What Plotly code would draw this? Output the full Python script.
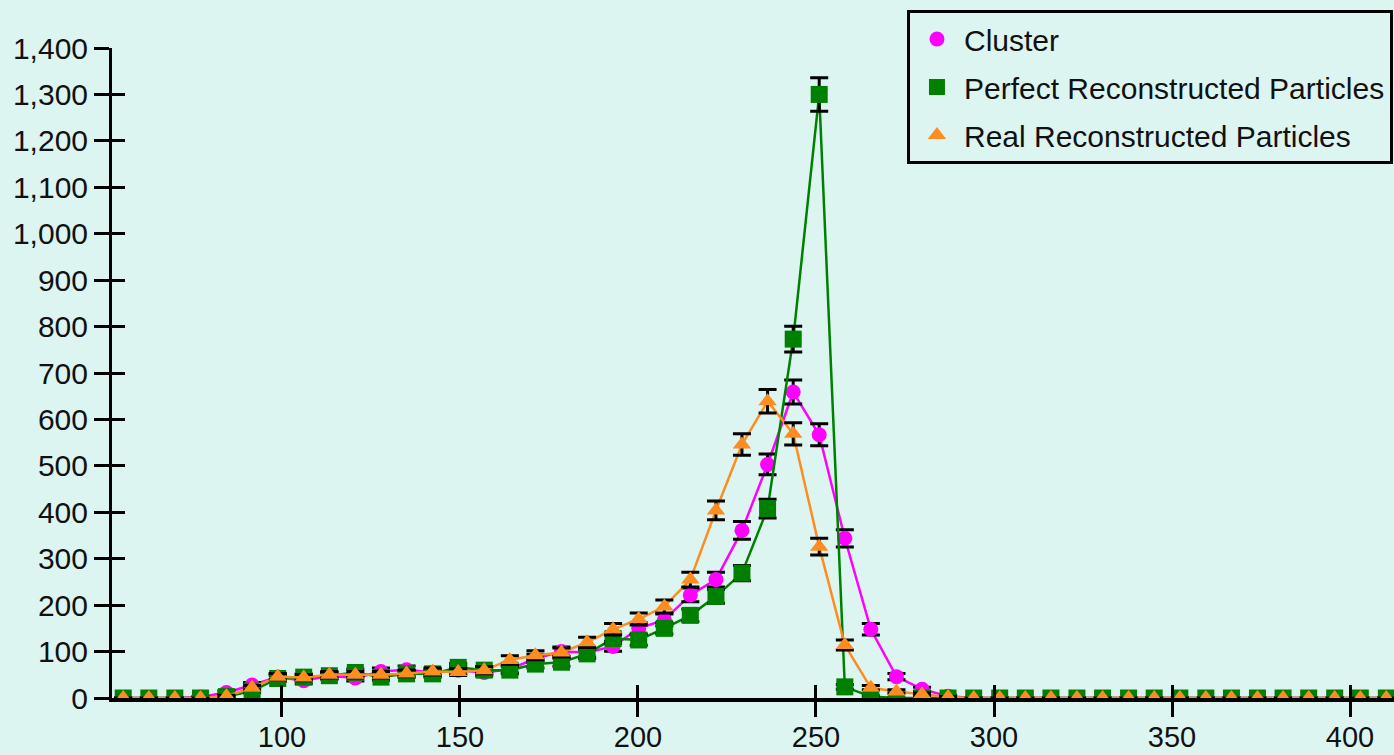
import plotly.graph_objects as go

# bin centres (50 bins)
x_vals = [55.4, 62.6, 69.9, 77.1, 84.4, 91.6, 98.8, 106.1, 113.3, 120.6,
          127.8, 135.0, 142.3, 149.5, 156.8, 164.0, 171.2, 178.5, 185.7, 193.0,
          200.2, 207.4, 214.7, 221.9, 229.2, 236.4, 243.6, 250.9, 258.1, 265.4,
          272.6, 279.8, 287.1, 294.3, 301.6, 308.8, 316.0, 323.3, 330.5, 337.8,
          345.0, 352.2, 359.5, 366.7, 374.0, 381.2, 388.4, 395.7, 402.9, 410.2]

cluster = [0, 0, 0, 2, 12, 28, 45, 37, 48, 43,
           57, 61, 55, 60, 55, 62, 85, 100, 98, 111,
           150, 168, 222, 255, 361, 503, 659, 567, 344, 148,
           46, 19, 4, 0, 0, 0, 0, 0, 0, 0,
           0, 0, 0, 0, 0, 0, 0, 0, 0, 0]
cluster_err = [0, 0, 0, 1.4, 3.5, 5.3, 6.7, 6.1, 6.9, 6.6,
               7.5, 7.8, 7.4, 7.7, 7.4, 7.9, 9.2, 10, 9.9, 10.5,
               12.2, 13, 14.9, 16, 19, 22.4, 25.7, 23.8, 18.5, 12.2,
               6.8, 4.4, 2, 0, 0, 0, 0, 0, 0, 0,
               0, 0, 0, 0, 0, 0, 0, 0, 0, 0]

perfect = [0, 0, 0, 0, 3, 15, 42, 45, 48, 55,
           45, 52, 52, 66, 60, 60, 73, 77, 95, 128,
           125, 150, 178, 219, 269, 408, 773, 1300, 24, 3,
           0, 0, 0, 0, 0, 0, 0, 0, 0, 0,
           0, 0, 0, 0, 0, 0, 0, 0, 0, 0]
perfect_err = [0, 0, 0, 0, 1.7, 3.9, 6.5, 6.7, 6.9, 7.4,
               6.7, 7.2, 7.2, 8.1, 7.7, 7.7, 8.5, 8.8, 9.7, 11.3,
               11.2, 12.2, 13.3, 14.8, 16.4, 20.2, 27.8, 36.1, 4.9, 1.7,
               0, 0, 0, 0, 0, 0, 0, 0, 0, 0,
               0, 0, 0, 0, 0, 0, 0, 0, 0, 0]

real = [0, 0, 0, 0, 4, 22, 46, 44, 50, 50,
        50, 53, 57, 56, 60, 82, 92, 98, 120, 148,
        170, 197, 255, 404, 546, 639, 569, 326, 114, 22,
        14, 8, 2, 0, 0, 0, 0, 0, 0, 0,
        0, 0, 0, 0, 0, 0, 0, 0, 0, 0]
real_err = [0, 0, 0, 0, 2, 4.7, 6.8, 6.6, 7.1, 7.1,
            7.1, 7.3, 7.5, 7.5, 7.7, 9.1, 9.6, 9.9, 11, 12.2,
            13, 14, 16, 20.1, 23.4, 25.3, 23.9, 18.1, 10.7, 4.7,
            3.7, 2.8, 1.4, 0, 0, 0, 0, 0, 0, 0,
            0, 0, 0, 0, 0, 0, 0, 0, 0, 0]

x_ticks = [100, 150, 200, 250, 300, 350, 400]

BG = "#DDF5F1"
MAGENTA = "#FF00FF"
GREEN = "#008000"
ORANGE = "#FF8C1E"
FONT = "Liberation Sans"

series = [
    ("Cluster", cluster, cluster_err, MAGENTA, "circle", 15, 2.5),
    ("Perfect Reconstructed Particles", perfect, perfect_err, GREEN, "square", 17, 2.5),
    ("Real Reconstructed Particles", real, real_err, ORANGE, "triangle-up", 16, 2.5),
]

fig = go.Figure()
for i, (name, vals, errs, col, sym, size, lw) in enumerate(series):
    fig.add_trace(go.Scatter(
        x=x_vals, y=vals, mode="lines", line=dict(color=col, width=lw),
        showlegend=False, hoverinfo="skip"))
    fig.add_trace(go.Scatter(
        x=x_vals, y=vals, mode="markers", name=name, legendgroup=f"g{i}",
        marker=dict(color=col, symbol=sym, size=size, line=dict(width=0)),
        error_y=dict(type="data", array=errs, visible=True, color="black",
                     thickness=3, width=9)))

# dummy trace for the overlay axes (inner half of crossing ticks)
fig.add_trace(go.Scatter(x=[None], y=[None], xaxis="x2", yaxis="y2",
                         showlegend=False, hoverinfo="skip"))

fig.update_layout(
    width=1394, height=755,
    margin=dict(l=112, r=0, t=48, b=57, autoexpand=False),
    paper_bgcolor=BG, plot_bgcolor=BG,
    font=dict(family=FONT, size=30, color="#111111"),
    xaxis=dict(range=[52.25, 412.36], tickvals=x_ticks, ticks="outside",
               ticklen=15, tickwidth=3, tickcolor="black",
               showline=True, linecolor="black", linewidth=4,
               showgrid=False, zeroline=False, ticklabelstandoff=-5,
               tickfont=dict(family=FONT, size=29, color="#111111")),
    yaxis=dict(range=[0, 1400], dtick=100, tick0=0, tickformat=",",
               ticks="outside", ticklen=15, tickwidth=3, tickcolor="black",
               showline=True, linecolor="black", linewidth=3,
               showgrid=False, zeroline=False,
               tickfont=dict(family=FONT, size=30, color="#111111")),
    xaxis2=dict(range=[52.25, 412.36], tickvals=x_ticks, overlaying="x",
                anchor="y2", side="bottom", ticks="inside", ticklen=13,
                tickwidth=3, tickcolor="black", showticklabels=False,
                showline=False, showgrid=False, zeroline=False),
    yaxis2=dict(range=[0, 1400], dtick=100, tick0=0, overlaying="y",
                anchor="x2", side="left", ticks="inside", ticklen=13,
                tickwidth=3, tickcolor="black", showticklabels=False,
                showline=False, showgrid=False, zeroline=False),
    legend=dict(x=0.6201, y=1.0585, xanchor="left", yanchor="top",
                bgcolor=BG, bordercolor="black", borderwidth=3,
                font=dict(family=FONT, size=30, color="#111111"),
                itemwidth=44, tracegroupgap=6),
)

fig.write_html("out.html")
